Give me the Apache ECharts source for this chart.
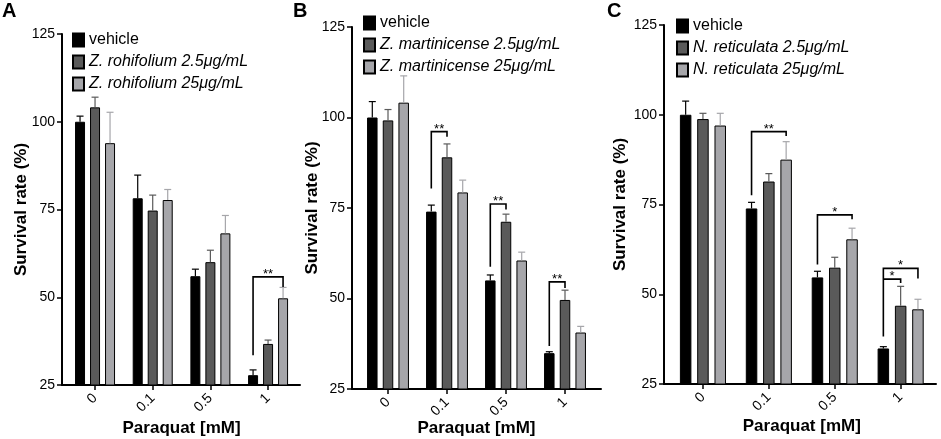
<!DOCTYPE html>
<html>
<head>
<meta charset="utf-8">
<script src="https://cdn.jsdelivr.net/npm/echarts@6/dist/echarts.min.js"></script>
<style>
  html, body { margin: 0; padding: 0; background: #fff; }
  #chart { width: 941px; height: 439px; }
</style>
</head>
<body>
<div id="chart"></div>
<script>
// data
const categories = ['0', '0.1', '0.5', '1']
const yTicks = [25, 50, 75, 100, 125]
const panelLetters = ['A', 'B', 'C']
const species = ['Z. rohifolium', 'Z. martinicense', 'N. reticulata']
const doses = ['2.5μg/mL', '25μg/mL']

// panel A
const aVehicle = [100, 78.2, 56, 27.8]
const aVehicleErr = [1.6, 6.6, 2, 1.5]
const aLow = [104.1, 74.7, 60, 36.7]
const aLowErr = [2.9, 4.4, 3.4, 1.1]
const aHigh = [93.9, 77.7, 68.2, 49.7]
const aHighErr = [8.8, 3, 5.1, 3.1]
// [category, from bar, to bar, top, from bottom, to bottom, label]
const aBrackets = [[3, 0, 2, 55.8, 33.5, 52.9, '**']]

// panel B
const bVehicle = [100, 74, 55, 34.9]
const bVehicleErr = [4.4, 1.8, 1.5, 0.4]
const bLow = [99.2, 89, 71.2, 49.6]
const bLowErr = [3, 3.7, 2.1, 2.7]
const bHigh = [104.1, 79.3, 60.5, 40.6]
const bHighErr = [7.4, 3.4, 2.3, 1.7]
const bBrackets = [
  [1, 0, 1, 96.1, 80.4, 94.7, '**'],
  [2, 0, 1, 76.1, 58.8, 74.6, '**'],
  [3, 0, 1, 54.6, 36.9, 52.9, '**']
]

// panel C
const cVehicle = [100, 73.9, 54.7, 34.9]
const cVehicleErr = [3.8, 1.7, 1.7, 0.5]
const cLow = [98.8, 81.4, 57.4, 46.8]
const cLowErr = [1.6, 2.2, 2.9, 5.4]
const cHigh = [97, 87.5, 65.3, 45.8]
const cHighErr = [3.4, 5, 3.1, 2.8]
const cBrackets = [
  [1, 0, 2, 95.3, 77.6, 94.1, '**'],
  [2, 0, 2, 72.1, 58.3, 70.9, '*'],
  [3, 0, 2, 57.2, 38.2, 54.4, '*'],
  [3, 0, 1, 54.2, 54.2, 53.1, '*']
]

const panels = [
  { values: [aVehicle, aLow, aHigh], errors: [aVehicleErr, aLowErr, aHighErr], brackets: aBrackets },
  { values: [bVehicle, bLow, bHigh], errors: [bVehicleErr, bLowErr, bHighErr], brackets: bBrackets },
  { values: [cVehicle, cLow, cHigh], errors: [cVehicleErr, cLowErr, cHighErr], brackets: cBrackets }
]

// pixel layout of each panel: frame = axis box, band = where the categories sit
const layout = [
  { frame: [62, 34, 238, 351], band: [66.2, 230.7], barW: 10, step: 15, legend: [72, 32], yGap: 32, xGap: 35, letter: 2 },
  { frame: [352, 27, 249, 362], band: [358.5, 236], barW: 10.5, step: 15.7, legend: [363, 15], yGap: 31, xGap: 31, letter: 293 },
  { frame: [664, 25, 272, 359], band: [670, 263.6], barW: 11.5, step: 17.3, legend: [676, 18], yGap: 35, xGap: 34, letter: 607 }
]

const barColors = ['#000000', '#5a5a5a', '#a6a6aa']
const font = 'Liberation Sans'

const grid = [], xAxis = [], yAxis = [], series = [], legend = [], title = []

panels.forEach((panel, p) => {
  const L = layout[p]
  const [fl, ft, fw, fh] = L.frame
  const frameIdx = p * 2, bandIdx = p * 2 + 1
  const names = ['vehicle', species[p] + ' ' + doses[0], species[p] + ' ' + doses[1]]

  grid.push({ left: fl, top: ft, width: fw, height: fh, outerBoundsMode: 'none' })
  grid.push({ left: L.band[0], top: ft, width: L.band[1], height: fh, outerBoundsMode: 'none' })

  // frame axes: the drawn y axis and the x axis line
  xAxis.push({
    gridIndex: frameIdx, type: 'value', min: 0, max: 1,
    axisLine: { onZero: false, lineStyle: { color: '#000', width: 2 } },
    axisTick: { show: false }, axisLabel: { show: false }, splitLine: { show: false }
  })
  yAxis.push({
    gridIndex: frameIdx, type: 'value', min: yTicks[0], max: yTicks[yTicks.length - 1], interval: 25,
    name: 'Survival rate (%)', nameLocation: 'middle', nameGap: L.yGap, nameMoveOverlap: false,
    nameTextStyle: { fontSize: 17, fontWeight: 'bold', color: '#000', fontFamily: font },
    axisLine: { show: true, onZero: false, lineStyle: { color: '#000', width: 2 } },
    axisTick: { show: true, length: 5, lineStyle: { color: '#000', width: 1.5 } },
    axisLabel: { fontSize: 14, color: '#000', margin: 7, fontFamily: font },
    splitLine: { show: false }
  })

  // category axes: ticks and labels only
  xAxis.push({
    gridIndex: bandIdx, type: 'category', data: categories,
    name: 'Paraquat [mM]', nameLocation: 'middle', nameGap: L.xGap, nameMoveOverlap: false,
    nameTextStyle: { fontSize: 17, fontWeight: 'bold', color: '#000', fontFamily: font },
    axisLine: { show: false },
    axisTick: { show: true, alignWithLabel: true, length: 5, lineStyle: { color: '#000', width: 1.5 } },
    axisLabel: { rotate: 45, fontSize: 14, color: '#000', margin: 11, fontFamily: font }
  })
  yAxis.push({
    gridIndex: bandIdx, type: 'value', min: yTicks[0], max: yTicks[yTicks.length - 1], show: false
  })

  const barGap = ((L.step - L.barW) / L.barW * 100).toFixed(1) + '%'
  panel.values.forEach((vals, k) => {
    series.push({
      name: names[k], type: 'bar', xAxisIndex: bandIdx, yAxisIndex: bandIdx,
      data: vals, barWidth: L.barW, barGap: barGap,
      itemStyle: { color: barColors[k], borderColor: '#000', borderWidth: 1 },
      emphasis: { disabled: true }
    })
  })

  // error bars (upper only, with cap)
  const errData = []
  panel.values.forEach((vals, k) => {
    vals.forEach((v, i) => errData.push([i, k, v, panel.errors[k][i]]))
  })
  series.push({
    type: 'custom', xAxisIndex: bandIdx, yAxisIndex: bandIdx, z: 5, silent: true,
    data: errData,
    renderItem: (params, api) => {
      const cat = api.value(0), k = api.value(1), v = api.value(2), e = api.value(3)
      const base = api.coord([cat, v]), top = api.coord([cat, v + e])
      const x = base[0] + (k - 1) * L.step
      const style = { stroke: barColors[k], lineWidth: 1.2 }
      return {
        type: 'group', children: [
          { type: 'line', shape: { x1: x, y1: base[1], x2: x, y2: top[1] }, style },
          { type: 'line', shape: { x1: x - 3.5, y1: top[1], x2: x + 3.5, y2: top[1] }, style }
        ]
      }
    }
  })

  // significance brackets
  series.push({
    type: 'custom', xAxisIndex: bandIdx, yAxisIndex: bandIdx, z: 6, silent: true,
    data: panel.brackets.map(b => [b[0], b[3]]),
    renderItem: (params, api) => {
      const [cat, from, to, top, fb, tb, label] = panel.brackets[params.dataIndex]
      const c = api.coord([cat, top])
      const x1 = c[0] + (from - 1) * L.step, x2 = c[0] + (to - 1) * L.step
      const y1 = api.coord([cat, fb])[1], y2 = api.coord([cat, tb])[1]
      return {
        type: 'group', children: [
          { type: 'polyline', shape: { points: [[x1, y1], [x1, c[1]], [x2, c[1]], [x2, y2]] },
            style: { stroke: '#000', lineWidth: 1.6, fill: null } },
          { type: 'text', style: { text: label, x: (x1 + x2) / 2, y: c[1] + 4, align: 'center',
            verticalAlign: 'bottom', fontSize: 13, fontFamily: font, fill: '#000' } }
        ]
      }
    }
  })

  legend.push({
    data: names, orient: 'vertical', left: L.legend[0], top: L.legend[1], padding: 0,
    icon: 'rect', itemWidth: 11, itemHeight: 13, itemGap: 6, selectedMode: false,
    formatter: name => name === 'vehicle' ? name : '{i|' + name + '}',
    textStyle: { fontSize: 16, lineHeight: 14, color: '#000', fontFamily: font,
      rich: { i: { fontSize: 16, lineHeight: 14, fontStyle: 'italic', color: '#000', fontFamily: font } } }
  })

  title.push({
    text: panelLetters[p], left: L.letter, top: 1, padding: 0,
    textStyle: { fontSize: 20, fontWeight: 'bold', color: '#000', fontFamily: font }
  })
})

const chart = echarts.init(document.getElementById('chart'))
chart.setOption({
  animation: false,
  textStyle: { fontFamily: font },
  title, legend, grid, xAxis, yAxis, series
})
</script>
</body>
</html>
